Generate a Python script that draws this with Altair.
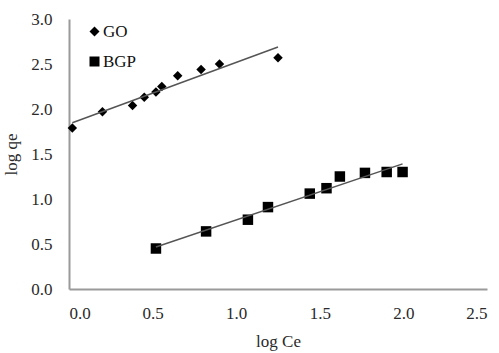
import altair as alt
import pandas as pd

series_names = ["GO", "BGP"]
go_x = [0.02, 0.20, 0.38, 0.45, 0.52, 0.555, 0.65, 0.79, 0.90, 1.25]
go_y = [1.79, 1.97, 2.04, 2.13, 2.19, 2.25, 2.37, 2.44, 2.50, 2.57]
bgp_x = [0.52, 0.82, 1.07, 1.19, 1.44, 1.54, 1.62, 1.77, 1.90, 1.995]
bgp_y = [0.45, 0.64, 0.77, 0.91, 1.06, 1.12, 1.25, 1.29, 1.30, 1.30]
x_ticks = [0.0, 0.5, 1.0, 1.5, 2.0, 2.5]
y_ticks = [0.0, 0.5, 1.0, 1.5, 2.0, 2.5, 3.0]

df = pd.DataFrame({
    "logCe": go_x + bgp_x,
    "logqe": go_y + bgp_y,
    "series": [series_names[0]] * len(go_x) + [series_names[1]] * len(bgp_x),
})

FONT = "Liberation Serif, Times New Roman, serif"
AXIS_COLOR = "#9a9a9a"
TEXT_COLOR = "#2a2a2a"

x_enc = alt.X(
    "logCe:Q",
    scale=alt.Scale(domain=[0, 2.5], nice=False, zero=False),
    axis=alt.Axis(values=x_ticks, format=".1f", title="log Ce", grid=False,
                  ticks=False, domainColor=AXIS_COLOR, domainWidth=2,
                  labelFont=FONT, labelFontSize=17, labelColor=TEXT_COLOR,
                  labelPadding=16, titleFont=FONT, titleFontSize=17,
                  titleFontWeight="normal", titleColor=TEXT_COLOR, titlePadding=12),
)
y_enc = alt.Y(
    "logqe:Q",
    scale=alt.Scale(domain=[0, 3.0], nice=False, zero=False),
    axis=alt.Axis(values=y_ticks, format=".1f", title="log qe", grid=False,
                  ticks=False, domainColor=AXIS_COLOR, domainWidth=2,
                  labelFont=FONT, labelFontSize=17, labelColor=TEXT_COLOR,
                  labelPadding=17, titleFont=FONT, titleFontSize=17,
                  titleFontWeight="normal", titleColor=TEXT_COLOR, titlePadding=10),
)

base = alt.Chart(df)

lines = base.transform_regression(
    "logCe", "logqe", groupby=["series"]
).mark_line(color="#555555", strokeWidth=1.5).encode(
    x="logCe:Q", y="logqe:Q", detail="series:N"
)

points = base.mark_point(filled=True, color="black", opacity=1).encode(
    x=x_enc,
    y=y_enc,
    shape=alt.Shape(
        "series:N",
        scale=alt.Scale(domain=series_names, range=["diamond", "square"]),
        legend=alt.Legend(
            title=None, orient="none", legendX=17, legendY=4,
            labelFont=FONT, labelFontSize=17, labelColor="#111",
            symbolFillColor="black", symbolStrokeWidth=0, symbolSize=100,
            rowPadding=12, labelOffset=0,
        ),
    ),
    size=alt.condition(alt.datum.series == "GO", alt.value(90), alt.value(110)),
)

chart = alt.layer(points, lines).properties(
    width=418, height=270,
    padding={"left": 69, "top": 19, "right": 12, "bottom": 64},
    autosize="none",
).configure_view(stroke=None)

chart.save("out.html", embed_options={"renderer": "svg", "actions": False})
